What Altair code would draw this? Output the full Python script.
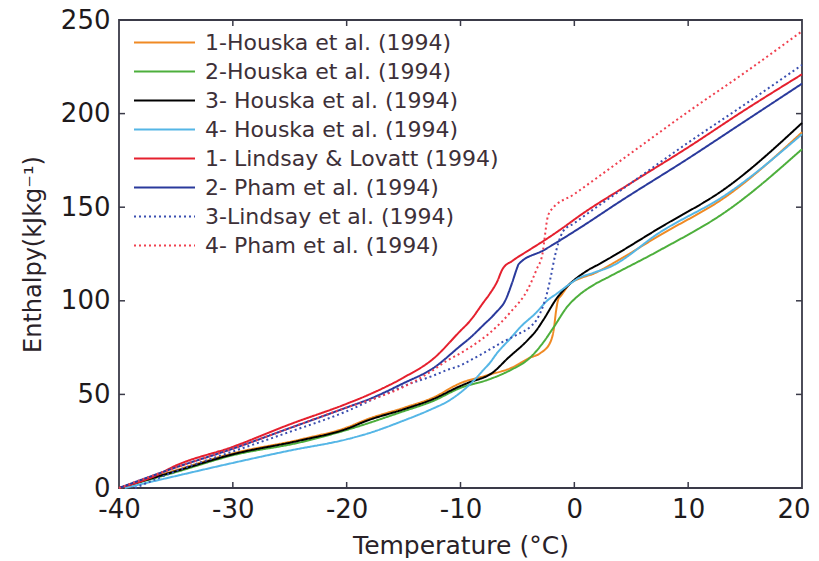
import altair as alt
import pandas as pd

series_names = [
    "1-Houska et al. (1994)",
    "2-Houska et al. (1994)",
    "3- Houska et al. (1994)",
    "4- Houska et al. (1994)",
    "1- Lindsay & Lovatt (1994)",
    "2- Pham et al. (1994)",
    "3-Lindsay et al. (1994)",
    "4- Pham et al. (1994)",
]
series_colors = ["#F08A24", "#4DAF3C", "#000000", "#55B6E6",
                 "#E5202E", "#2A3A9C", "#3A4FB0", "#F0404F"]
series_dash = [[1, 0]] * 6 + [[2, 3], [2, 3]]

# 1-Houska (orange)
t_h1 = [-40, -35, -30, -24, -20, -18.2, -15, -12.4, -10, -7.5, -5.6, -3.9, -3.0, -2.1, -1.8, -1.6,
        -1.4, -1.2, -0.4, 0.5, 1.7, 3.1, 7.5, 13.4, 20]
h_h1 = [0, 9.5, 18.5, 26, 32.3, 36.7, 42.8, 48.3, 56, 60.5, 64, 69.6, 72, 78, 85, 94.8,
        101, 102.5, 109, 112, 114.5, 119, 135, 156, 190]
# 2-Houska (green)
t_h2 = [-40, -35, -30, -24, -20, -15, -12.4, -10, -7.5, -5.6, -4, -2.7, -1.8, -0.6, 0.5, 1.7,
        3.1, 7.5, 13.4, 20]
h_h2 = [0, 8.5, 17.5, 24.5, 31, 41, 46.5, 53.5, 58, 63, 69, 78, 86, 97, 103.5, 108.5,
        113, 127, 148, 181]
# 3-Houska (black)
t_h3 = [-40, -35, -30, -24, -20, -18.2, -15, -12.4, -10, -9.4, -7.1, -5.9, -4.1, -3.3, -2.7,
        -1.5, -0.4, 1.1, 2.3, 7.5, 13.4, 20]
h_h3 = [0, 9, 18, 25.5, 31.6, 36, 42, 47.5, 54.5, 56, 62, 69, 79, 84.5, 90,
        101.7, 109, 116, 120, 139, 160.6, 195]
# 4-Houska (light blue)
t_h4 = [-39.5, -35, -30, -25, -20, -18.2, -15, -12.4, -11.2, -10, -8.9, -8, -7.4, -6.8, -5.6,
        -4.8, -3.3, -2.4, -1.5, -0.4, 0.2, 1.7, 3.1, 7.5, 13.4, 20]
h_h4 = [0, 6.4, 13.4, 20, 26, 29, 36, 42.5, 46, 51, 57, 63, 67, 72, 80,
        85.6, 94, 100, 104, 109, 111.5, 115, 118, 136.5, 157, 189]
# 1-Lindsay & Lovatt (red)
t_l1 = [-40, -37, -35, -30, -25, -20, -18, -15, -12.4, -10, -9.2, -8, -7.4, -6.8, -6.3, -5.4,
        -4, -2.7, -1, 0.5, 5, 10, 15, 20]
h_l1 = [0, 6, 12, 22, 34, 45, 50, 59, 69, 84, 89, 99, 104, 110, 117, 121.5,
        127, 132, 139, 145.6, 163, 182, 202, 221]
# 2-Pham (blue)
t_p2 = [-40, -35, -30, -25, -20, -18, -15, -12.4, -10, -9.2, -8, -7, -6, -5.5, -5.0, -4.9,
        -2.7, 0.5, 4, 10, 15, 20]
h_p2 = [0, 11, 21, 32, 43, 47.5, 56, 64, 76, 80, 87, 93, 101, 109, 118, 119.5,
        127, 139, 153, 176, 196, 216]
# 3-Lindsay (blue dotted)
t_l3 = [-38.6, -35, -30, -25, -20, -17.1, -15, -12.4, -11.2, -10, -9.2, -8, -6.3, -5, -3.9,
        -3.3, -2.7, -2.4, -2.1, -1.7, -1.4, -1, 0, 5, 10, 15, 20]
h_l3 = [0, 9, 19.5, 30, 41, 49, 54.5, 60, 63, 65.5, 68, 72, 78, 82, 86,
        90, 98, 104, 112, 124, 131, 137, 141.5, 163, 184.5, 205, 226]
# 4-Pham (red dotted)
t_p4 = [-40, -35, -30, -25, -20, -17, -15, -12.4, -11.2, -10, -9.2, -7.4, -5.6, -4.1, -3.3,
        -2.8, -2.6, -2.4, -2.1, 0, 5, 10, 15, 20]
h_p4 = [0, 11, 21, 32, 43, 49, 54, 63, 68, 72, 75, 83, 94, 106, 117,
        125, 134, 143, 148, 157, 179, 201, 222, 244]

x_ticks = [-40, -30, -20, -10, 0, 10, 20]
y_ticks = [0, 50, 100, 150, 200, 250]
x_inner = [-30, -20, -10, 0, 10]
y_inner = [50, 100, 150, 200]

all_t = [t_h1, t_h2, t_h3, t_h4, t_l1, t_p2, t_l3, t_p4]
all_h = [h_h1, h_h2, h_h3, h_h4, h_l1, h_p2, h_l3, h_p4]
rows = []
for name, ts, hs in zip(series_names, all_t, all_h):
    for t, h in zip(ts, hs):
        rows.append({"series": name, "T": t, "H": h})
df = pd.DataFrame(rows)

W, H = 683, 468
FONT = "DejaVu Sans"

xscale = alt.Scale(domain=[-40, 20], nice=False, zero=False)
yscale = alt.Scale(domain=[0, 250], nice=False, zero=False)

leg = dict(title=None, orient="none", legendX=14, legendY=8,
           symbolType="stroke", symbolSize=3721, symbolStrokeWidth=2,
           labelFont=FONT, labelFontSize=22, labelColor="#3d3038",
           labelOffset=9, clipHeight=29, rowPadding=0, padding=0, labelLimit=400)

lines = alt.Chart(df).mark_line(strokeWidth=2, interpolate="monotone").encode(
    x=alt.X("T:Q", scale=xscale,
            axis=alt.Axis(values=x_ticks, title="Temperature (°C)", ticks=False, tickSize=0,
                          domain=False, grid=False, labelPadding=8, labelFontSize=26,
                          labelFont=FONT, labelColor="#1e1a1c", titleFont=FONT,
                          titleFontSize=25, titleFontWeight="normal", titleColor="#2a2228",
                          titleY=45, titleBaseline="top", labelFlush=False,
                          labelAlign=alt.ExprRef("datum.value == 20 ? 'right' : 'center'"),
                          labelOffset=alt.ExprRef("datum.value == 20 ? 8 : 0"),
                          labelExpr="'' + datum.value")),
    y=alt.Y("H:Q", scale=yscale,
            axis=alt.Axis(values=y_ticks, title="Enthalpy(kJkg⁻¹)", ticks=False, tickSize=0,
                          domain=False, grid=False, labelPadding=9, labelFontSize=26,
                          labelFont=FONT, labelColor="#1e1a1c", titleFont=FONT,
                          titleFontSize=24, titleFontWeight="normal", titleColor="#2a2228",
                          titleX=-79, titleBaseline="alphabetic", labelFlush=False)),
    color=alt.Color("series:N", scale=alt.Scale(domain=series_names, range=series_colors),
                    legend=alt.Legend(**leg)),
    strokeDash=alt.StrokeDash("series:N",
                              scale=alt.Scale(domain=series_names, range=series_dash),
                              legend=alt.Legend(**leg)),
    order=alt.Order("T:Q"),
)

tick_color = "#3a3a48"
bx = alt.Chart(pd.DataFrame({"t": x_inner})).mark_rule(color=tick_color, strokeWidth=1.5).encode(
    x="t:Q", y=alt.value(H), y2=alt.value(H - 6))
tx = alt.Chart(pd.DataFrame({"t": x_inner})).mark_rule(color=tick_color, strokeWidth=1.5).encode(
    x="t:Q", y=alt.value(0), y2=alt.value(6))
ly = alt.Chart(pd.DataFrame({"v": y_inner})).mark_rule(color=tick_color, strokeWidth=1.5).encode(
    y="v:Q", x=alt.value(0), x2=alt.value(6))
ry = alt.Chart(pd.DataFrame({"v": y_inner})).mark_rule(color=tick_color, strokeWidth=1.5).encode(
    y="v:Q", x=alt.value(W), x2=alt.value(W - 6))

chart = alt.layer(bx, tx, ly, ry, lines).properties(
    width=W, height=H,
    autosize=alt.AutoSizeParams(type="none"),
    padding={"left": 111, "top": 12, "right": 8, "bottom": 70},
    background="white",
).configure_view(stroke=tick_color, strokeWidth=1.8)

chart.save("out.html", embed_options={"renderer": "svg", "actions": False})
